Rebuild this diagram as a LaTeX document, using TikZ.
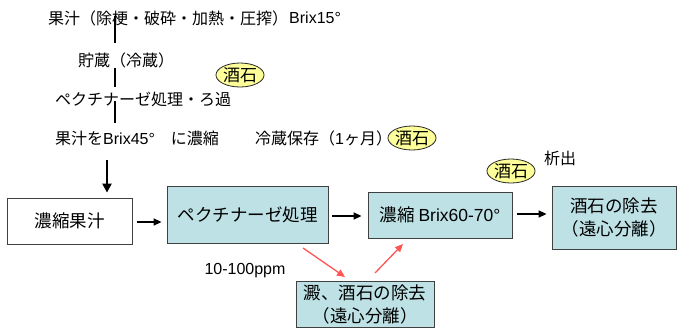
\documentclass[tikz,border=0pt]{standalone}
\usepackage{fontspec}
\setmainfont{Noto Sans CJK JP}
\newfontfamily\lat{Liberation Sans}
\usetikzlibrary{arrows.meta,shapes.geometric,calc}
\definecolor{boxcyan}{RGB}{189,225,229}
\definecolor{stoneyellow}{RGB}{255,255,153}
\definecolor{arrowred}{RGB}{255,85,85}
\begin{document}
\begin{tikzpicture}[x=1pt,y=-1pt,
  txt/.style={inner sep=0pt, font=\fontsize{16}{20}\selectfont},
  box/.style={draw=black!75, line width=0.8pt, inner sep=0pt, align=center,
    font=\fontsize{17.5}{23}\selectfont},
  cbox/.style={box, fill=boxcyan},
  stone/.style={ellipse, draw=black!85, line width=0.8pt, fill=stoneyellow, inner sep=0pt,
    minimum width=45pt, minimum height=24pt, font=\fontsize{17}{18}\selectfont},
  vline/.style={line width=1.4pt},
  flow/.style={line width=1.5pt, -{Triangle[length=8pt,width=7pt]}},
  thick arrow/.style={line width=2.2pt, -{Triangle[length=9pt,width=9pt]}},
  redarrow/.style={draw=arrowred, line width=1.3pt, -{Triangle[length=8pt,width=7pt]}, color=arrowred}
]
\useasboundingbox (0,0) rectangle (680,332);

% upper text column
\node[txt, anchor=west] (t1) at (48,18) {果汁（除梗・破砕・加熱・圧搾）};
\node[txt, anchor=west] (t1b) at (289,18) {\lat Brix15°};
\node[txt, anchor=west] (t2) at (78,60) {貯蔵（冷蔵）};
\node[txt, anchor=west] (t3) at (55,99) {ペクチナーゼ処理・ろ過};
\node[txt, anchor=west] (t4) at (55,138) {果汁を{\lat Brix45°}　に濃縮};
\node[txt, anchor=west] (t5) at (255,138) {冷蔵保存（{\lat 1}ヶ月）};

\node[stone] (e1) at (240,75) {酒石};
\node[stone] (e2) at (412,138) {酒石};
\node[stone] (e3) at (511,171) {酒石};
\node[txt] (t6) at (560,158) {析出};
\node[txt] (t7) at (245,271) {\lat 10-100ppm};

% vertical connectors
\coordinate (l1a) at (115,16);  \coordinate (l1b) at (115,43);
\coordinate (l2a) at (115,68);  \coordinate (l2b) at (115,87);
\coordinate (l3a) at (115,101); \coordinate (l3b) at (115,123);
\draw[vline] (l1a) -- (l1b);
\draw[vline] (l2a) -- (l2b);
\draw[vline] (l3a) -- (l3b);

% boxes
\node[box, minimum width=125pt, minimum height=46pt] (b1) at (69.5,221) {濃縮果汁};
\node[cbox, minimum width=161pt, minimum height=57pt] (b2) at (247.5,214.5) {ペクチナーゼ処理};
\node[cbox, minimum width=144pt, minimum height=46pt] (b3) at (440,215) {濃縮 {\lat Brix60-70°}};
\node[cbox, minimum width=124pt, minimum height=63pt] (b4) at (614,217.5) {酒石の除去\\（遠心分離）};
\node[cbox, minimum width=138pt, minimum height=46pt] (b5) at (365,304) {澱、酒石の除去\\（遠心分離）};

% thick arrow into first box
\coordinate (a0) at (107,160);
\draw[thick arrow] (a0) -- ($(a0 |- b1.north)+(0,-5)$);

% flow arrows
\draw[flow] ($(b1.east)+(5,1)$) -- ($(b2.west |- b1.east)+(-5,1)$);
\draw[flow] ($(b2.east)+(4,1.5)$) -- ($(b3.west |- b2.east)+(-6,1.5)$);
\draw[flow] ($(b3.east)+(5,-1)$) -- ($(b4.west |- b3.east)+(-5,-1)$);

% red arrows
\coordinate (r1s) at (303,248); \coordinate (r1e) at (345,277);
\coordinate (r2s) at (375,273); \coordinate (r2e) at (403,244);
\draw[redarrow] (r1s) -- (r1e);
\draw[redarrow] (r2s) -- (r2e);
\end{tikzpicture}
\end{document}
